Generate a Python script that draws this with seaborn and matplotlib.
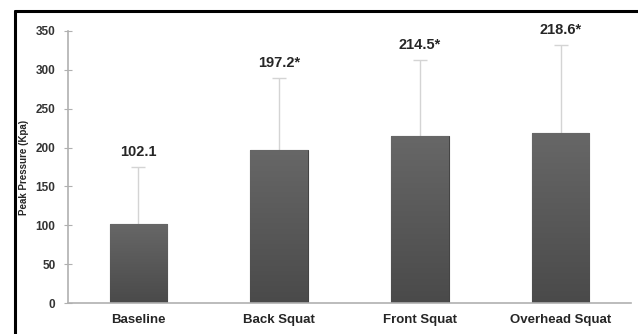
import numpy as np
import pandas as pd
import matplotlib
matplotlib.use('Agg')
import matplotlib.pyplot as plt
import seaborn as sns
from matplotlib.lines import Line2D
from matplotlib.colors import LinearSegmentedColormap

# data
conditions = ['Baseline', 'Back Squat', 'Front Squat', 'Overhead Squat']
peak_pressure = [102.1, 197.2, 214.5, 218.6]
sd = [73, 92, 98, 113]
labels = ['102.1', '197.2*', '214.5*', '218.6*']

df = pd.DataFrame({'condition': conditions, 'pressure': peak_pressure})

sns.set_style('white')
plt.rcParams['font.family'] = ['Liberation Sans', 'DejaVu Sans']

fig = plt.figure(figsize=(6.38, 3.34), dpi=100)
ax = fig.add_axes([0.1066, 0.0928, 0.8824, 0.8144])

# error bars behind the bars, only the upper half is shown
eb = ax.errorbar(np.arange(len(conditions)), peak_pressure,
                 yerr=[np.zeros(len(sd)), sd], fmt='none',
                 ecolor='#d4d4d4', elinewidth=1.0, capsize=5, capthick=1.0,
                 zorder=1)
eb[1][0].set_visible(False)

sns.barplot(data=df, x='condition', y='pressure', color='#585858',
            saturation=1, width=0.41, edgecolor='#444444', linewidth=0.8,
            errorbar=None, ax=ax, zorder=2)

# soft vertical gradient inside each bar, like the original
grad = LinearSegmentedColormap.from_list('g', ['#4a4a4a', '#676767'])
for p in ax.patches:
    x0, y0 = p.get_x(), p.get_y()
    w, h = p.get_width(), p.get_height()
    im = ax.imshow(np.linspace(0, 1, 100).reshape(-1, 1), cmap=grad,
                   origin='lower', aspect='auto',
                   extent=[x0, x0 + w, y0, y0 + h], zorder=2.5)
    im.set_clip_path(p)

for i, (v, s, t) in enumerate(zip(peak_pressure, sd, labels)):
    ax.annotate(t, (i, v + s), xytext=(0, 6), textcoords='offset points',
                ha='center', va='bottom', fontsize=10.5, fontweight='bold',
                color='#262626')

ax.set_ylim(0, 350)
ax.set_xlim(-0.5, 3.5)
ax.set_yticks(range(0, 351, 50))
ax.set_xlabel('')
ax.set_ylabel('Peak Pressure (Kpa)', fontsize=7, fontweight='bold',
              color='#262626', labelpad=5)

for sp in ['top', 'right']:
    ax.spines[sp].set_visible(False)
for sp in ['left', 'bottom']:
    ax.spines[sp].set_color('#b0b0b0')
    ax.spines[sp].set_linewidth(1.2)

ax.tick_params(axis='y', direction='inout', length=6, width=0.8,
               color='#b0b0b0', left=True, labelsize=8.5, labelcolor='#333333',
               pad=6)
ax.tick_params(axis='x', length=0, labelsize=9.5, labelcolor='#262626', pad=8)
for lbl in ax.get_yticklabels() + ax.get_xticklabels():
    lbl.set_fontweight('bold')

# black frame of the original figure (left and top edges)
fig.add_artist(Line2D([0.023, 0.023], [0, 0.967], color='black', lw=2.2,
                      transform=fig.transFigure))
fig.add_artist(Line2D([0.023, 1.0], [0.967, 0.967], color='black', lw=2.2,
                      transform=fig.transFigure))

fig.savefig('out.png', dpi=100)
